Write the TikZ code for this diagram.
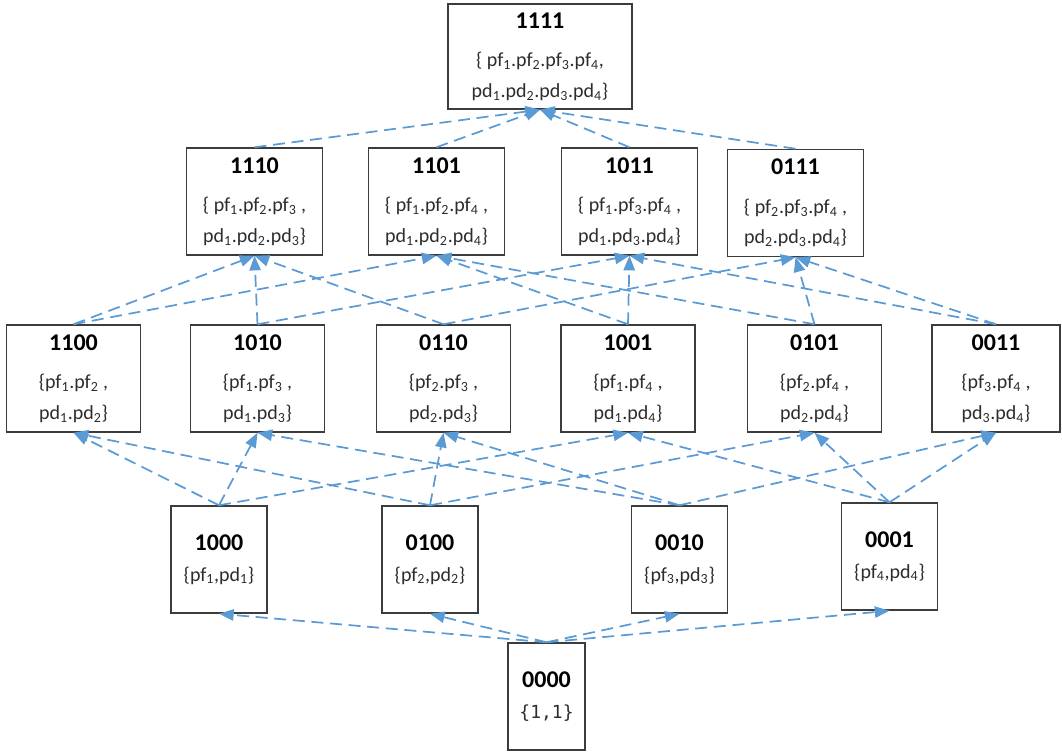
\documentclass[tikz,border=0pt]{standalone}
\usepackage{fontspec}
\setmainfont{Carlito}
\newfontfamily\monofont{DejaVu Sans Mono}
\usetikzlibrary{arrows.meta}
\definecolor{linkblue}{RGB}{91,155,213}
\definecolor{boxline}{RGB}{60,60,60}
\definecolor{bodytext}{RGB}{45,45,45}
\newcommand\lsub[1]{\textsubscript{#1}}
\newcommand\ttl[1]{{\bfseries\color{black}\fontsize{18}{23}\selectfont #1}}
\begin{document}
\begin{tikzpicture}[x=0.75pt,y=-0.75pt,
  box/.style={draw=boxline, line width=1.1pt, fill=white, inner sep=0pt,
    align=center, text=bodytext, font=\fontsize{15}{23}\selectfont,
    minimum height=80.25pt},
  top/.style={box, minimum width=138pt, minimum height=78.75pt},
  triple/.style={box, minimum width=102pt},
  pair/.style={box, minimum width=100.5pt},
  single/.style={box, minimum width=72pt},
  edge/.style={draw=linkblue, line width=1.3pt, dash pattern=on 9pt off 5pt,
    -{Triangle[length=11pt,width=8.5pt]}}]
\useasboundingbox (0,0) rectangle (1062,754);

% level 4
\node[top] (n1111) at (540,56.5) {\ttl{1111}\\[6pt]\{ pf\lsub1.pf\lsub2.pf\lsub3.pf\lsub4,\\pd\lsub1.pd\lsub2.pd\lsub3.pd\lsub4\}};

% level 3
\node[triple] (n1110) at (254.5,201.5) {\ttl{1110}\\[6pt]\{ pf\lsub1.pf\lsub2.pf\lsub3 ,\\pd\lsub1.pd\lsub2.pd\lsub3\}};
\node[triple] (n1101) at (436.5,201.5) {\ttl{1101}\\[6pt]\{ pf\lsub1.pf\lsub2.pf\lsub4 ,\\pd\lsub1.pd\lsub2.pd\lsub4\}};
\node[triple] (n1011) at (629.5,201.5) {\ttl{1011}\\[6pt]\{ pf\lsub1.pf\lsub3.pf\lsub4 ,\\pd\lsub1.pd\lsub3.pd\lsub4\}};
\node[triple] (n0111) at (795.5,203) {\ttl{0111}\\[6pt]\{ pf\lsub2.pf\lsub3.pf\lsub4 ,\\pd\lsub2.pd\lsub3.pd\lsub4\}};

% level 2
\node[pair] (n1100) at (73.5,378.5) {\ttl{1100}\\[6pt]\{pf\lsub1.pf\lsub2 ,\\pd\lsub1.pd\lsub2\}};
\node[pair] (n1010) at (257.5,378.5) {\ttl{1010}\\[6pt]\{pf\lsub1.pf\lsub3 ,\\pd\lsub1.pd\lsub3\}};
\node[pair] (n0110) at (443.5,378.5) {\ttl{0110}\\[6pt]\{pf\lsub2.pf\lsub3 ,\\pd\lsub2.pd\lsub3\}};
\node[pair] (n1001) at (628,378.5) {\ttl{1001}\\[6pt]\{pf\lsub1.pf\lsub4 ,\\pd\lsub1.pd\lsub4\}};
\node[pair] (n0101) at (814.5,378.5) {\ttl{0101}\\[6pt]\{pf\lsub2.pf\lsub4 ,\\pd\lsub2.pd\lsub4\}};
\node[pair, minimum width=96pt] (n0011) at (996,378.5) {\ttl{0011}\\[6pt]\{pf\lsub3.pf\lsub4 ,\\pd\lsub3.pd\lsub4\}};

% level 1
\node[single] (n1000) at (219,559.5) {\ttl{1000}\\\{pf\lsub1,pd\lsub1\}};
\node[single] (n0100) at (430,559.5) {\ttl{0100}\\\{pf\lsub2,pd\lsub2\}};
\node[single] (n0010) at (679.5,559.5) {\ttl{0010}\\\{pf\lsub3,pd\lsub3\}};
\node[single] (n0001) at (889.5,556.5) {\ttl{0001}\\\{pf\lsub4,pd\lsub4\}};

% level 0
\node[box, minimum width=57.75pt] (n0000) at (546.5,696.5) {\ttl{0000}\\{\monofont\fontsize{13.5}{23}\selectfont\{1,1\}}};

% subset links, each from the smaller set up to the larger one
\foreach \lo/\hi in {
  0000/1000, 0000/0100, 0000/0010, 0000/0001,
  1000/1100, 1000/1010, 1000/1001,
  0100/1100, 0100/0110, 0100/0101,
  0010/1010, 0010/0110, 0010/0011,
  0001/1001, 0001/0101, 0001/0011,
  1100/1110, 1100/1101,
  1010/1110, 1010/1011,
  0110/1110, 0110/0111,
  1001/1101, 1001/1011,
  0101/1101, 0101/0111,
  0011/1011, 0011/0111,
  1110/1111, 1101/1111, 1011/1111, 0111/1111}
  \draw[edge] (n\lo.north) -- (n\hi.south);
\end{tikzpicture}
\end{document}
